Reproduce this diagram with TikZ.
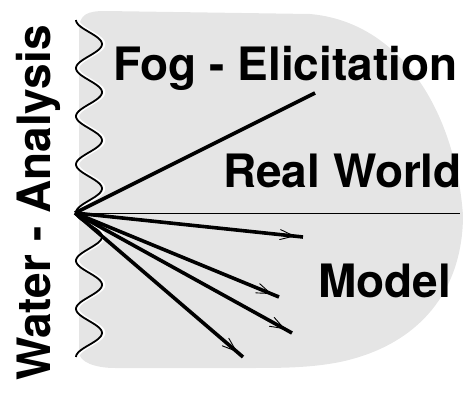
\documentclass[tikz,border=0pt]{standalone}
\usepackage{fontspec}
\setmainfont{TeX Gyre Heros}
\usetikzlibrary{decorations.markings}
\tikzset{
  big/.style={font=\bfseries\fontsize{46}{50}\selectfont, inner sep=0pt},
  ray/.style={line width=3.6pt},
  chev/.style={ray, postaction={decorate, decoration={markings,
      mark=at position -9pt with {\draw[line width=0.9pt, line cap=round, line join=miter]
        (-14pt,5pt) -- (0pt,0pt) -- (-14pt,-5pt);}}}},
}
\begin{document}
\begin{tikzpicture}[x=1pt, y=-1pt]
\useasboundingbox (0,0) rectangle (475,399);
% grey region
\fill[black!10] (79,352) -- (79,30) .. controls (79,14) and (88,11) .. (105,11)
  -- (310,14) .. controls (400,22) and (455,110) .. (463,215)
  .. controls (463,290) and (420,345) .. (340,362)
  .. controls (310,368) and (280,368) .. (250,368)
  -- (115,368) .. controls (95,368) and (79,362) .. (79,352) -- cycle;
% wavy water surface (period 48.14, i.e. 7.478 degrees per unit)
\draw[white, line width=3pt, xshift=1.8pt]
  plot[domain=20:357, samples=240, smooth] ({89-13*cos(7.478*(\x-20))}, \x);
\draw[line width=1.8pt]
  plot[domain=20:357, samples=240, smooth] ({89-13*cos(7.478*(\x-20))}, \x);
% rays from the source point
\coordinate (o) at (75,213);
\coordinate (fog) at (315,93);
\coordinate (hz) at (460,213);
\coordinate (m1) at (303,237);
\coordinate (m2) at (279,297);
\coordinate (m3) at (292,333);
\coordinate (m4) at (243,357);
\draw[ray] (o) -- (fog);
\draw[line width=0.9pt] (o) -- (hz);
\draw[chev] (o) -- (m1);
\draw[chev] (o) -- (m2);
\draw[chev] (o) -- (m3);
\draw[chev] (o) -- (m4);
% labels
\node[big, anchor=base west] (fogl) at (113,80) {Fog - Elicitation};
\node[big, anchor=base west] (real) at (223,187) {Real World};
\node[big, anchor=base west] (model) at (318,297) {Model};
\node[big, anchor=base west, rotate=90] (water) at (50,381) {Water - Analysis};
\end{tikzpicture}
\end{document}
